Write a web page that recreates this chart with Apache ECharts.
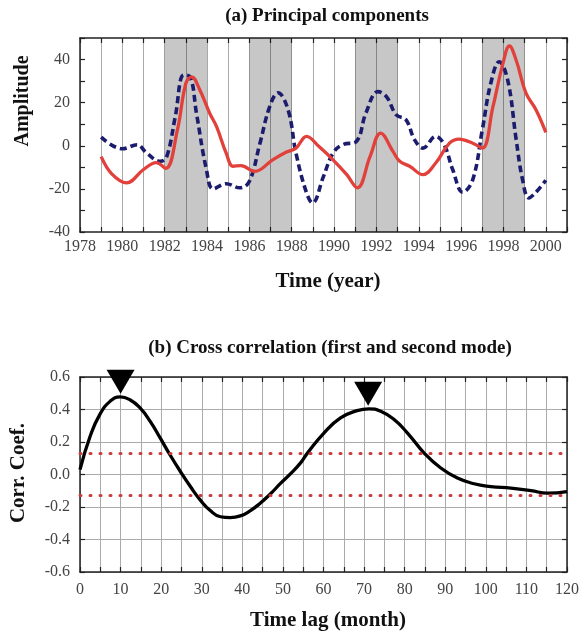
<!DOCTYPE html>
<html><head><meta charset="utf-8">
<script src="https://cdn.jsdelivr.net/npm/echarts@6/dist/echarts.min.js"></script>
<style>html,body{margin:0;padding:0;background:#fff}#c{width:582px;height:639px}</style>
</head><body><div id="c"></div>
<script>
// ---- data ----
const redYears   = [1979.0,1979.5,1980.2,1981.0,1981.6,1982.05,1982.6,1983.0,1983.27,1983.66,1984.13,1984.45,1984.9,1985.23,1985.6,1986.25,1987.1,1987.75,1988.2,1988.7,1989.3,1989.95,1990.6,1991.1,1991.7,1992.2,1992.78,1993.1,1993.57,1994.2,1994.8,1995.45,1995.9,1996.55,1997.0,1997.5,1997.97,1998.28,1998.6,1999.07,1999.54,2000.0];
const redValues  = [-5,-13,-17.2,-11,-7.8,-10.5,7.4,29,32,25.9,15,8.9,-3.3,-9.5,-9.2,-11.9,-6.5,-2.9,-1.1,4.4,-0.5,-6.5,-13.4,-19.5,-4.9,5.9,-2.6,-7.2,-9.5,-13.4,-8,1.2,3.1,1.2,-1.1,18,38,46.3,39.7,24.3,16.6,6.2];
const navyYears  = [1979.0,1980.0,1980.7,1981.15,1981.8,1982.1,1982.5,1982.9,1983.2,1983.5,1983.97,1984.29,1984.9,1985.55,1986.0,1986.5,1986.96,1987.35,1987.83,1988.2,1988.7,1988.98,1989.5,1989.95,1990.4,1991.05,1991.5,1992.07,1992.47,1992.94,1993.4,1993.8,1994.2,1994.8,1995.2,1995.6,1996.08,1996.55,1997.0,1997.4,1997.8,1998.2,1998.6,1998.9,1999.2,1999.5,2000.0];
const navyValues = [4,-1.4,0.5,-3.4,-7.2,-4.9,13.5,32.8,32,15.1,-11,-20,-17.6,-19.5,-16.5,1.2,18.2,24.6,16.6,-3.4,-21.9,-26.5,-14.2,-3.4,0.5,2,15.1,25.1,22.8,14.3,12,2.8,-1.1,4.3,0.5,-11,-21.6,-15.7,7.4,29,39,30.5,2.8,-15.7,-24.2,-21.9,-16];
const bandStart  = [1982,1986,1991,1997];
const bandEnd    = [1984,1988,1993,1999];

const lagMonths  = [0,2.5,4.9,7.4,9.9,12.3,14.8,17.3,19.75,22.2,24.7,27.2,29.6,32.1,34.6,37,39.5,42,44.4,46.9,49.4,51.9,54.3,56,60.1,64.2,68.3,71.2,74.1,77.4,80.7,84.8,88.9,93,97.1,101.2,106.2,111.1,115.2,120];
const corrValues = [0.03,0.235,0.37,0.45,0.478,0.46,0.41,0.327,0.225,0.12,0.02,-0.074,-0.156,-0.222,-0.26,-0.265,-0.255,-0.222,-0.177,-0.12,-0.055,0.005,0.07,0.13,0.255,0.348,0.393,0.404,0.389,0.338,0.255,0.132,0.04,-0.022,-0.057,-0.074,-0.084,-0.099,-0.115,-0.105];
const peakLags   = [10,71];
const peakValues = [0.478,0.404];
const sigLevels  = [0.13,-0.13];

// ---- chart ----
const SERIF = '"Liberation Serif","DejaVu Serif",serif';
const pair = (xs, ys) => xs.map((x, i) => [x, ys[i]]);
const lbl = {fontFamily: SERIF, fontSize: 16, color: '#444'};
const line = {show: true, onZero: false, lineStyle: {color: '#222', width: 1.5}};
const tickIn = {show: true, inside: true, length: 5, lineStyle: {color: '#222', width: 1.2}};
const grid0 = {left: 80, top: 38, width: 487, height: 194};
const grid1 = {left: 80, top: 377, width: 487, height: 195};

const chart = echarts.init(document.getElementById('c'), null, {renderer: 'canvas'});
chart.setOption({
  animation: false,
  backgroundColor: '#fff',
  grid: [grid0, grid1],
  xAxis: [
    {gridIndex: 0, type: 'value', min: 1978, max: 2001, interval: 1, axisLine: line, axisTick: tickIn,
     splitLine: {show: true, lineStyle: {color: '#aaa', width: 1}},
     axisLabel: Object.assign({margin: 7, formatter: v => (v % 2 === 0 ? String(v) : '')}, lbl)},
    {gridIndex: 0, type: 'value', position: 'top', min: 1978, max: 2001, interval: 1, axisLine: line, axisTick: tickIn,
     splitLine: {show: false}, axisLabel: {show: false}},
    {gridIndex: 1, type: 'value', min: 0, max: 120, interval: 5, axisLine: line, axisTick: tickIn,
     splitLine: {show: true, lineStyle: {color: '#aaa', width: 1}},
     axisLabel: Object.assign({margin: 10, formatter: v => (v % 10 === 0 ? String(v) : '')}, lbl)},
    {gridIndex: 1, type: 'value', position: 'top', min: 0, max: 120, interval: 5, axisLine: line, axisTick: tickIn,
     splitLine: {show: false}, axisLabel: {show: false}}
  ],
  yAxis: [
    {gridIndex: 0, type: 'value', min: -40, max: 50, interval: 10, axisLine: line, axisTick: tickIn, splitLine: {show: false},
     axisLabel: Object.assign({margin: 10, formatter: v => (v % 20 === 0 && v <= 40 ? String(v) : '')}, lbl)},
    {gridIndex: 0, type: 'value', position: 'right', min: -40, max: 50, interval: 10, axisLine: line, axisTick: tickIn,
     splitLine: {show: false}, axisLabel: {show: false}},
    {gridIndex: 1, type: 'value', min: -0.6, max: 0.6, interval: 0.2, axisLine: line, axisTick: tickIn,
     splitLine: {show: true, lineStyle: {color: '#aaa', width: 1}},
     axisLabel: Object.assign({margin: 10, formatter: v => v.toFixed(1)}, lbl)},
    {gridIndex: 1, type: 'value', position: 'right', min: -0.6, max: 0.6, interval: 0.2, axisLine: line, axisTick: tickIn,
     splitLine: {show: false}, axisLabel: {show: false}}
  ],
  series: [
    {type: 'line', xAxisIndex: 0, yAxisIndex: 0, data: pair(navyYears, navyValues), smooth: 0.4, showSymbol: false,
     lineStyle: {color: '#1c1c6e', width: 3.6, type: [7, 4]}, z: 3,
     markArea: {silent: true, itemStyle: {color: 'rgba(0,0,0,0.22)'},
       data: bandStart.map((s, i) => [{xAxis: s}, {xAxis: bandEnd[i]}])}},
    {type: 'line', xAxisIndex: 0, yAxisIndex: 0, data: pair(redYears, redValues), smooth: 0.4, showSymbol: false,
     lineStyle: {color: '#e2403a', width: 3.3}, z: 4},
    {type: 'line', xAxisIndex: 2, yAxisIndex: 2, data: pair(lagMonths, corrValues), smooth: 0.5, showSymbol: false,
     lineStyle: {color: '#000', width: 3.3}, z: 4,
     markLine: {silent: true, symbol: 'none', label: {show: false},
       lineStyle: {color: '#c83c3c', width: 3, type: [1, 9], cap: 'round'},
       data: sigLevels.map(v => ({yAxis: v}))}},
    {type: 'scatter', xAxisIndex: 2, yAxisIndex: 2, data: pair(peakLags, peakValues), symbol: 'triangle',
     symbolRotate: 180, symbolSize: [28, 24], symbolOffset: [0, -15], itemStyle: {color: '#000', opacity: 1}, z: 5}
  ],
  graphic: [
    {type: 'text', x: 327, y: 16, style: {text: '(a) Principal components', font: 'bold 19px ' + SERIF, fill: '#111', textAlign: 'center', textVerticalAlign: 'middle'}},
    {type: 'text', x: 330, y: 348, style: {text: '(b) Cross correlation (first and second mode)', font: 'bold 19px ' + SERIF, fill: '#111', textAlign: 'center', textVerticalAlign: 'middle'}},
    {type: 'text', x: 328, y: 282, style: {text: 'Time (year)', font: 'bold 21px ' + SERIF, fill: '#111', textAlign: 'center', textVerticalAlign: 'middle'}},
    {type: 'text', x: 328, y: 621, style: {text: 'Time lag (month)', font: 'bold 21px ' + SERIF, fill: '#111', textAlign: 'center', textVerticalAlign: 'middle'}},
    {type: 'text', x: 23, y: 101, rotation: Math.PI / 2, style: {text: 'Amplitude', font: 'bold 20px ' + SERIF, fill: '#111', textAlign: 'center', textVerticalAlign: 'middle'}},
    {type: 'text', x: 19, y: 473, rotation: Math.PI / 2, style: {text: 'Corr. Coef.', font: 'bold 21px ' + SERIF, fill: '#111', textAlign: 'center', textVerticalAlign: 'middle'}}
  ]
});
</script></body></html>
